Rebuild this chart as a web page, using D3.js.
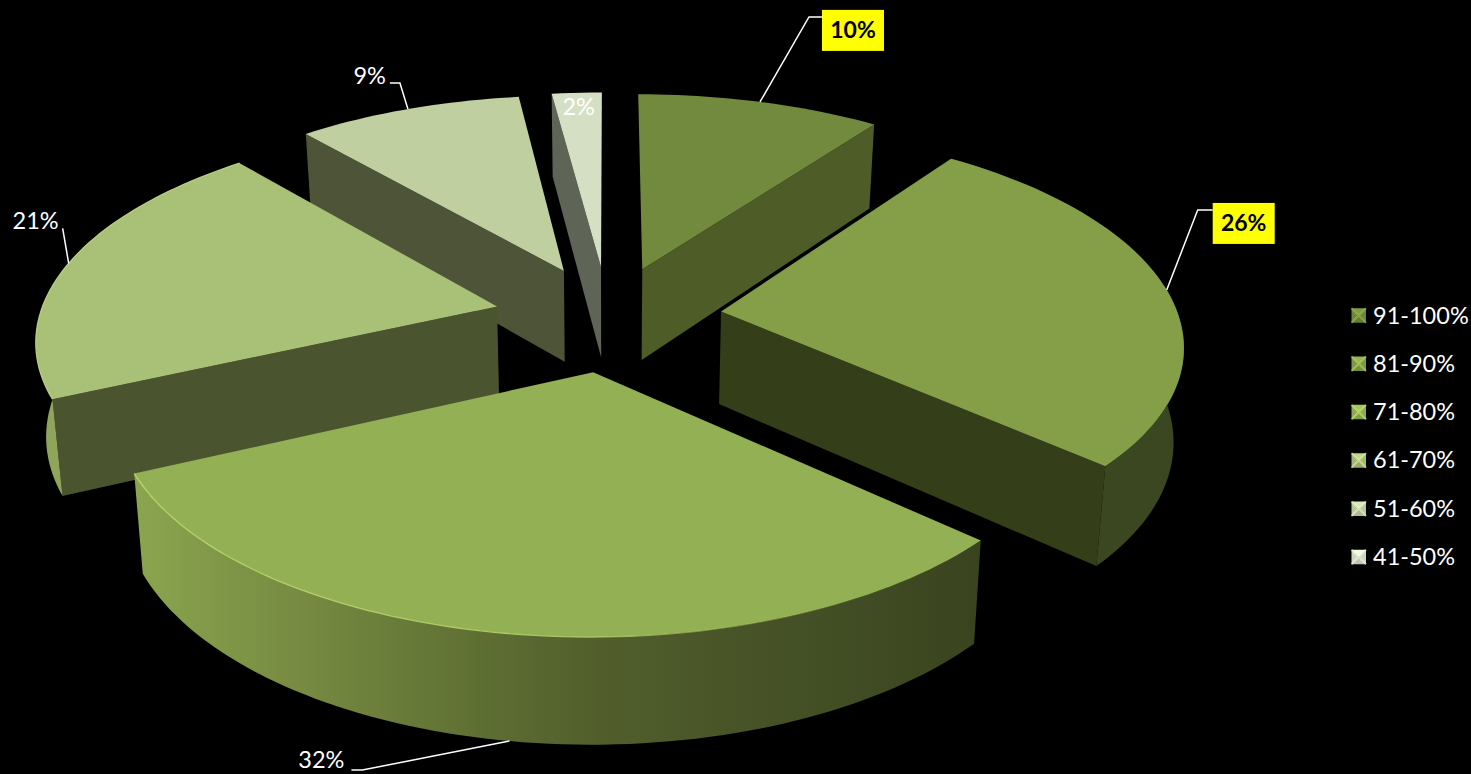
<!DOCTYPE html>
<html>
<head>
<meta charset="utf-8">
<script src="https://cdn.jsdelivr.net/npm/d3@7"></script>
<style>
  html, body { margin: 0; background: #000; overflow: hidden; }
  text { font-family: Lato, "Open Sans", sans-serif; }
</style>
</head>
<body>
<svg width="1471" height="774"></svg>
<script>
// chart data, clockwise from 12 o'clock
var categories = ["91-100%", "81-90%", "71-80%", "61-70%", "51-60%", "41-50%"];
var values = [10, 26, 32, 21, 9, 2];

var topColors = ["#728a3d", "#859e48", "#93b055", "#a9c077", "#bfcfa0", "#d5dfc3"];
var wallColors = ["#4e5c27", "#343f1a", "#3c4720", "#4a5530", "#4d5438", "#5e6456"];
var rimColors = ["#4e5c27", "#3b4720", "url(#rim32)", "#8fa55b", "#4d5438", "#5e6456"];

// leader elbows relative to the slice edge: [elbow dx, elbow dy, end dx, text gap]
var leaders = [[49, -85, 13, 0], [31, -80, 15, 0], [-147, 29, -11, 7], [-6, -35, 0, 4], [-8, -26, -10, 4], null];
var highlighted = [true, true, false, false, false, false];

var svg = d3.select("svg");

// tilted disc with perspective, z=0 is the top face and z=1 the bottom
var cx = 608, cy = 318, rx = 458, ry = 211.6, persp = 0.138, explode = 0.25;

function project(u, v, z) {
  var w = 1 / (1 - persp * v);
  return [
    cx + rx * u * w * (1 - 0.018 * z),
    cy + ry * v * w * (1 + 0.046 * z) + 93 * z
  ];
}

// the original 3D view is not quite a clean tilt, so angles bend a little on screen
var rad = Math.PI / 180;
var viewAngle = d3.scaleLinear()
    .domain([0, 36, 130, 245, 320, 360].map(function(d) { return d * rad; }))
    .range([0, 36, 132.5, 245.4, 319, 360].map(function(d) { return d * rad; }));

var line = d3.line();
var color = d3.scaleOrdinal().domain(categories).range(topColors);

var slices = d3.pie().sort(null)(values).map(function(d, i) {
  var mid = (d.startAngle + d.endAngle) / 2;
  return {
    i: i,
    start: d.startAngle,
    end: d.endAngle,
    mid: mid,
    ox: Math.sin(mid) * explode,
    oy: -Math.cos(mid) * explode
  };
});

function edgePoint(s, angle, z) {
  var a = viewAngle(angle);
  return project(s.ox + Math.sin(a), s.oy - Math.cos(a), z);
}

function arcPoints(s, z) {
  var n = Math.max(4, Math.round((s.end - s.start) * 40));
  var t = d3.scaleLinear().domain([0, n]).range([s.start, s.end]);
  return d3.range(n + 1).map(function(k) { return edgePoint(s, t(k), z); });
}

function wall(s, a) {
  return line([project(s.ox, s.oy, 0), edgePoint(s, a, 0), edgePoint(s, a, 1), project(s.ox, s.oy, 1)]) + "Z";
}

var defs = svg.append("defs");
var rimStops = [[0.0, "#8aa54f"], [0.2, "#768a41"], [0.4, "#5f7033"], [0.55, "#515e2c"], [0.75, "#465226"], [1.0, "#39441f"]];
defs.append("linearGradient")
    .attr("id", "rim32")
    .attr("gradientUnits", "userSpaceOnUse")
    .attr("x1", 135).attr("x2", 980).attr("y1", 0).attr("y2", 0)
  .selectAll("stop").data(rimStops).enter().append("stop")
    .attr("offset", function(d) { return d[0]; })
    .attr("stop-color", function(d) { return d[1]; });

var glowStops = [[0.0, "#b8d66c", 1], [0.55, "#b0ce68", 0.9], [0.8, "#a3c05e", 0.2], [1.0, "#a3c05e", 0]];
defs.append("linearGradient")
    .attr("id", "glow32")
    .attr("gradientUnits", "userSpaceOnUse")
    .attr("x1", 135).attr("x2", 980).attr("y1", 0).attr("y2", 0)
  .selectAll("stop").data(glowStops).enter().append("stop")
    .attr("offset", function(d) { return d[0]; })
    .attr("stop-color", function(d) { return d[1]; })
    .attr("stop-opacity", function(d) { return d[2]; });

// back to front
var order = [5, 4, 0, 3, 1, 2];
var cell = svg.append("g").selectAll("g")
    .data(order.map(function(i) { return slices[i]; }))
  .enter().append("g");

// only the cut faces turned towards the viewer
cell.filter(function(d) { return d.start >= Math.PI; }).append("path")
    .attr("fill", function(d) { return wallColors[d.i]; })
    .attr("d", function(d) { return wall(d, d.start); });

cell.filter(function(d) { return d.end <= Math.PI; }).append("path")
    .attr("fill", function(d) { return wallColors[d.i]; })
    .attr("d", function(d) { return wall(d, d.end); });

// outer rim, only where the arc comes round the front
cell.filter(function(d) { return d.end > Math.PI / 2 && d.start < 3 * Math.PI / 2; }).append("path")
    .attr("fill", function(d) { return rimColors[d.i]; })
    .attr("d", function(d) {
      return line(arcPoints(d, 0).concat(arcPoints(d, 1).reverse())) + "Z";
    });

cell.append("path")
    .attr("fill", function(d) { return color(categories[d.i]); })
    .attr("d", function(d) {
      return line([project(d.ox, d.oy, 0)].concat(arcPoints(d, 0))) + "Z";
    });

cell.filter(function(d) { return d.i == 2 || d.i == 3; }).append("path")
    .attr("fill", "none")
    .attr("stroke", function(d) { return d.i == 2 ? "url(#glow32)" : "#b7cc85"; })
    .attr("stroke-width", 1.3)
    .attr("d", function(d) { return line(arcPoints(d, 0)); });

// data labels
slices.forEach(function(s) {
  var i = s.i, text = values[i] + "%";
  var lead = leaders[i];
  if (!lead) {
    var p = edgePoint(s, s.mid, 0);
    svg.append("text")
        .attr("x", p[0] + 2).attr("y", p[1] + 22)
        .attr("text-anchor", "middle")
        .attr("fill", "#fff")
        .attr("font-size", 23.5)
        .text(text);
    return;
  }
  var a = edgePoint(s, s.mid, i == 2 ? 1 : 0);
  var elbow = [a[0] + lead[0], a[1] + lead[1]];
  var end = [elbow[0] + lead[2], elbow[1]];
  svg.append("path")
      .attr("fill", "none")
      .attr("stroke", "#fff")
      .attr("stroke-width", 1.5)
      .attr("d", line([a, elbow, end]));

  if (highlighted[i]) {
    svg.append("rect")
        .attr("x", end[0]).attr("y", end[1] - 7)
        .attr("width", 62).attr("height", 41)
        .attr("fill", "#ffff00");
    svg.append("text")
        .attr("x", end[0] + 31).attr("y", end[1] + 21)
        .attr("text-anchor", "middle")
        .attr("fill", "#000")
        .attr("font-size", 23)
        .attr("font-weight", 700)
        .text(text);
  } else {
    svg.append("text")
        .attr("x", end[0] - lead[3]).attr("y", Math.min(end[1] + 1, 768))
        .attr("text-anchor", "end")
        .attr("fill", "#fff")
        .attr("font-size", 23.5)
        .text(text);
  }
});

// legend
var legendY = d3.scalePoint().domain(categories).range([315.5, 557]);
var legend = svg.append("g").selectAll("g")
    .data(categories)
  .enter().append("g")
    .attr("transform", function(d) { return "translate(1351.5," + legendY(d) + ")"; });

var size = 14.5, half = size / 2;
var bevel = [
  { pts: [[0, -half], [size, -half], [half, 0]], shade: function(c) { return c.brighter(0.35); } },
  { pts: [[size, -half], [size, half], [half, 0]], shade: function(c) { return c.darker(0.1); } },
  { pts: [[size, half], [0, half], [half, 0]], shade: function(c) { return c.darker(0.3); } },
  { pts: [[0, half], [0, -half], [half, 0]], shade: function(c) { return c.darker(0.1); } }
];
bevel.forEach(function(b) {
  legend.append("path")
      .attr("d", line(b.pts) + "Z")
      .attr("fill", function(d) { return b.shade(d3.color(color(d))).formatHex(); });
});

// light creases of the bevel
legend.append("path")
    .attr("d", "M0," + (-half) + "L" + size + "," + half + "M" + size + "," + (-half) + "L0," + half)
    .attr("stroke", function(d) { return d3.color(color(d)).brighter(1).formatHex(); })
    .attr("stroke-width", 2)
    .attr("stroke-opacity", 0.6);

legend.append("text")
    .attr("x", 21.5).attr("y", 8)
    .attr("fill", "#fff")
    .attr("font-size", 23.5)
    .text(function(d) { return d; });
</script>
</body>
</html>
